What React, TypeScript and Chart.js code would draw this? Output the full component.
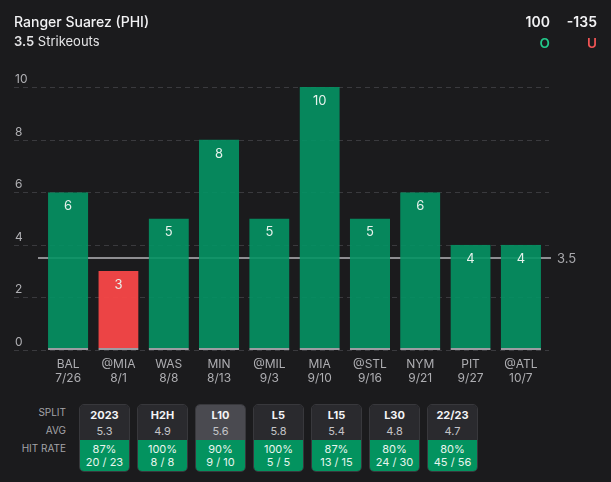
import React, { useEffect, useRef } from "react";
import { Chart, registerables } from "chart.js";

Chart.register(...registerables);

const playerName = "Ranger Suarez (PHI)";
const propValue = "3.5";
const propStat = "Strikeouts";
const overOdds = "100";
const underOdds = "-135";

const opponents = ["BAL", "@MIA", "WAS", "MIN", "@MIL", "MIA", "@STL", "NYM", "PIT", "@ATL"];
const gameDates = ["7/26", "8/1", "8/8", "8/13", "9/3", "9/10", "9/16", "9/21", "9/27", "10/7"];
const strikeouts = [6, 3, 5, 8, 5, 10, 5, 6, 4, 4];
const propLine = 3.5;
const yTicks = [0, 2, 4, 6, 8, 10];

const splitNames = ["2023", "H2H", "L10", "L5", "L15", "L30", "22/23"];
const splitAvgs = ["5.3", "4.9", "5.6", "5.8", "5.4", "4.8", "4.7"];
const hitRates = ["87%", "100%", "90%", "100%", "87%", "80%", "80%"];
const hitCounts = ["20 / 23", "8 / 8", "9 / 10", "5 / 5", "13 / 15", "24 / 30", "45 / 56"];
const activeSplit = "L10";

const FONT = "Inter, 'Noto Sans', sans-serif";
const BG = "#1b1b1d";
const GREEN_BAR = "rgba(4,147,100,0.9)";
const RED_BAR = "rgba(244,70,70,0.97)";

const overlayPlugin = {
  id: "overlay",
  beforeDatasetsDraw(chart: any) {
    const { ctx } = chart;
    const y = chart.scales.y;
    ctx.save();
    ctx.strokeStyle = "#3a3a3e";
    ctx.lineWidth = 1;
    ctx.setLineDash([5, 4]);
    yTicks.forEach((v) => {
      const py = Math.round(y.getPixelForValue(v)) + 0.5;
      ctx.beginPath();
      ctx.moveTo(14, py);
      ctx.lineTo(549, py);
      ctx.stroke();
    });
    ctx.setLineDash([]);
    ctx.fillStyle = "#b0b0b4";
    ctx.font = `12px ${FONT}`;
    ctx.textAlign = "left";
    ctx.textBaseline = "alphabetic";
    yTicks.forEach((v) => {
      const py = y.getPixelForValue(v);
      ctx.fillText(String(v), 15, py - 4);
    });
    const ly = y.getPixelForValue(propLine);
    ctx.strokeStyle = "#8e8e92";
    ctx.lineWidth = 2;
    ctx.beginPath();
    ctx.moveTo(38, ly);
    ctx.lineTo(551, ly);
    ctx.stroke();
    ctx.fillStyle = "#a8a8ac";
    ctx.font = `13px ${FONT}`;
    ctx.textBaseline = "middle";
    ctx.fillText(String(propLine), 557, ly + 1);
    ctx.restore();
  },
  afterDatasetsDraw(chart: any) {
    const { ctx } = chart;
    const meta = chart.getDatasetMeta(0);
    ctx.save();
    ctx.fillStyle = "#e6f2ec";
    ctx.font = `13px ${FONT}`;
    ctx.textAlign = "center";
    ctx.textBaseline = "middle";
    meta.data.forEach((bar: any, i: number) => {
      ctx.fillText(String(strikeouts[i]), bar.x, bar.y + 14);
    });
    ctx.restore();
  },
};

function ChartCanvas() {
  const ref = useRef<HTMLCanvasElement | null>(null);
  useEffect(() => {
    if (!ref.current) return;
    const chart = new Chart(ref.current, {
      type: "bar",
      data: {
        labels: opponents.map((o, i) => [o, gameDates[i]]),
        datasets: [
          {
            data: strikeouts,
            backgroundColor: strikeouts.map((v) => (v > propLine ? GREEN_BAR : RED_BAR)),
            borderColor: "#9c9ca2",
            borderWidth: { top: 0, left: 0, right: 0, bottom: 2 },
            borderSkipped: false,
            barPercentage: 0.8,
            categoryPercentage: 1,
          },
        ],
      },
      options: {
        responsive: false,
        animation: false,
        events: [],
        layout: { padding: { left: 43, right: 65, top: 87, bottom: 0 } },
        plugins: { legend: { display: false }, tooltip: { enabled: false } },
        scales: {
          x: {
            grid: { display: false, drawTicks: false },
            border: { display: false },
            ticks: {
              color: "#aeaeb2",
              font: { family: FONT, size: 12, lineHeight: 1.2 },
              padding: 7,
              maxRotation: 0,
              autoSkip: false,
            },
            afterFit: (s: any) => {
              s.height = 45;
            },
          },
          y: {
            min: 0,
            max: 10,
            grid: { display: false, drawTicks: false },
            border: { display: false },
            ticks: { display: false, stepSize: 2 },
            afterFit: (s: any) => {
              s.width = 0;
            },
          },
        },
      },
      plugins: [overlayPlugin],
    } as any);
    return () => chart.destroy();
  }, []);
  return (
    <canvas
      ref={ref}
      width={611}
      height={395}
      style={{ position: "absolute", left: 0, top: 0, width: 611, height: 395 }}
    />
  );
}

export default function App() {
  useEffect(() => {
    document.body.style.margin = "0";
    document.body.style.background = BG;
  }, []);
  const abs: React.CSSProperties = { position: "absolute", whiteSpace: "nowrap" };
  return (
    <div
      style={{
        position: "absolute",
        left: 0,
        top: 0,
        width: 611,
        height: 482,
        background: BG,
        fontFamily: FONT,
        overflow: "hidden",
      }}
    >
      <ChartCanvas />
      <div style={{ ...abs, left: 14, top: 13, fontSize: 14, color: "#f2f2f4", fontWeight: 500 }}>{playerName}</div>
      <div style={{ ...abs, left: 14, top: 33, fontSize: 13, color: "#e4e4e6" }}>
        <span style={{ fontWeight: 600 }}>{propValue}</span> {propStat}
      </div>
      <div style={{ ...abs, right: 611 - 550, top: 13, fontSize: 14, color: "#f2f2f4", fontWeight: 600 }}>{overOdds}</div>
      <div style={{ ...abs, right: 611 - 597, top: 13, fontSize: 14, color: "#f2f2f4", fontWeight: 600 }}>{underOdds}</div>
      <div style={{ ...abs, right: 611 - 550, top: 35, fontSize: 13.5, fontWeight: 600, color: "#22c98a" }}>O</div>
      <div style={{ ...abs, right: 611 - 597, top: 35, fontSize: 13.5, fontWeight: 600, color: "#f05454" }}>U</div>
      {["SPLIT", "AVG", "HIT RATE"].map((t, i) => (
        <div
          key={t}
          style={{
            ...abs,
            right: 611 - 66,
            top: [405, 423, 441][i],
            height: 14,
            lineHeight: "14px",
            fontSize: 10,
            color: "#a4a4a8",
          }}
        >
          {t}
        </div>
      ))}
      {splitNames.map((name, i) => (
        <div
          key={name}
          style={{
            position: "absolute",
            left: 79 + i * 58,
            top: 404,
            width: 51,
            height: 68,
            borderRadius: 5,
            overflow: "hidden",
            boxSizing: "border-box",
            border: "1px solid #38383c",
            textAlign: "center",
          }}
        >
          <div
            style={{
              height: 35,
              background: name === activeSplit ? "#4a4a50" : "#2a2a2e",
              position: "relative",
            }}
          >
            <div style={{ position: "absolute", left: 0, right: 0, top: 3, fontSize: 11, lineHeight: "14px", fontWeight: 700, color: "#f4f4f6" }}>
              {name}
            </div>
            <div style={{ position: "absolute", left: 0, right: 0, top: 19, fontSize: 11, lineHeight: "14px", color: "#c4c4c8" }}>
              {splitAvgs[i]}
            </div>
          </div>
          <div style={{ height: 33, background: "#03935f", position: "relative" }}>
            <div style={{ position: "absolute", left: 0, right: 0, top: 2, fontSize: 11, lineHeight: "14px", color: "#e8f5ee" }}>
              {hitRates[i]}
            </div>
            <div style={{ position: "absolute", left: 0, right: 0, top: 15, fontSize: 11, lineHeight: "14px", color: "#e8f5ee" }}>
              {hitCounts[i]}
            </div>
          </div>
        </div>
      ))}
    </div>
  );
}
